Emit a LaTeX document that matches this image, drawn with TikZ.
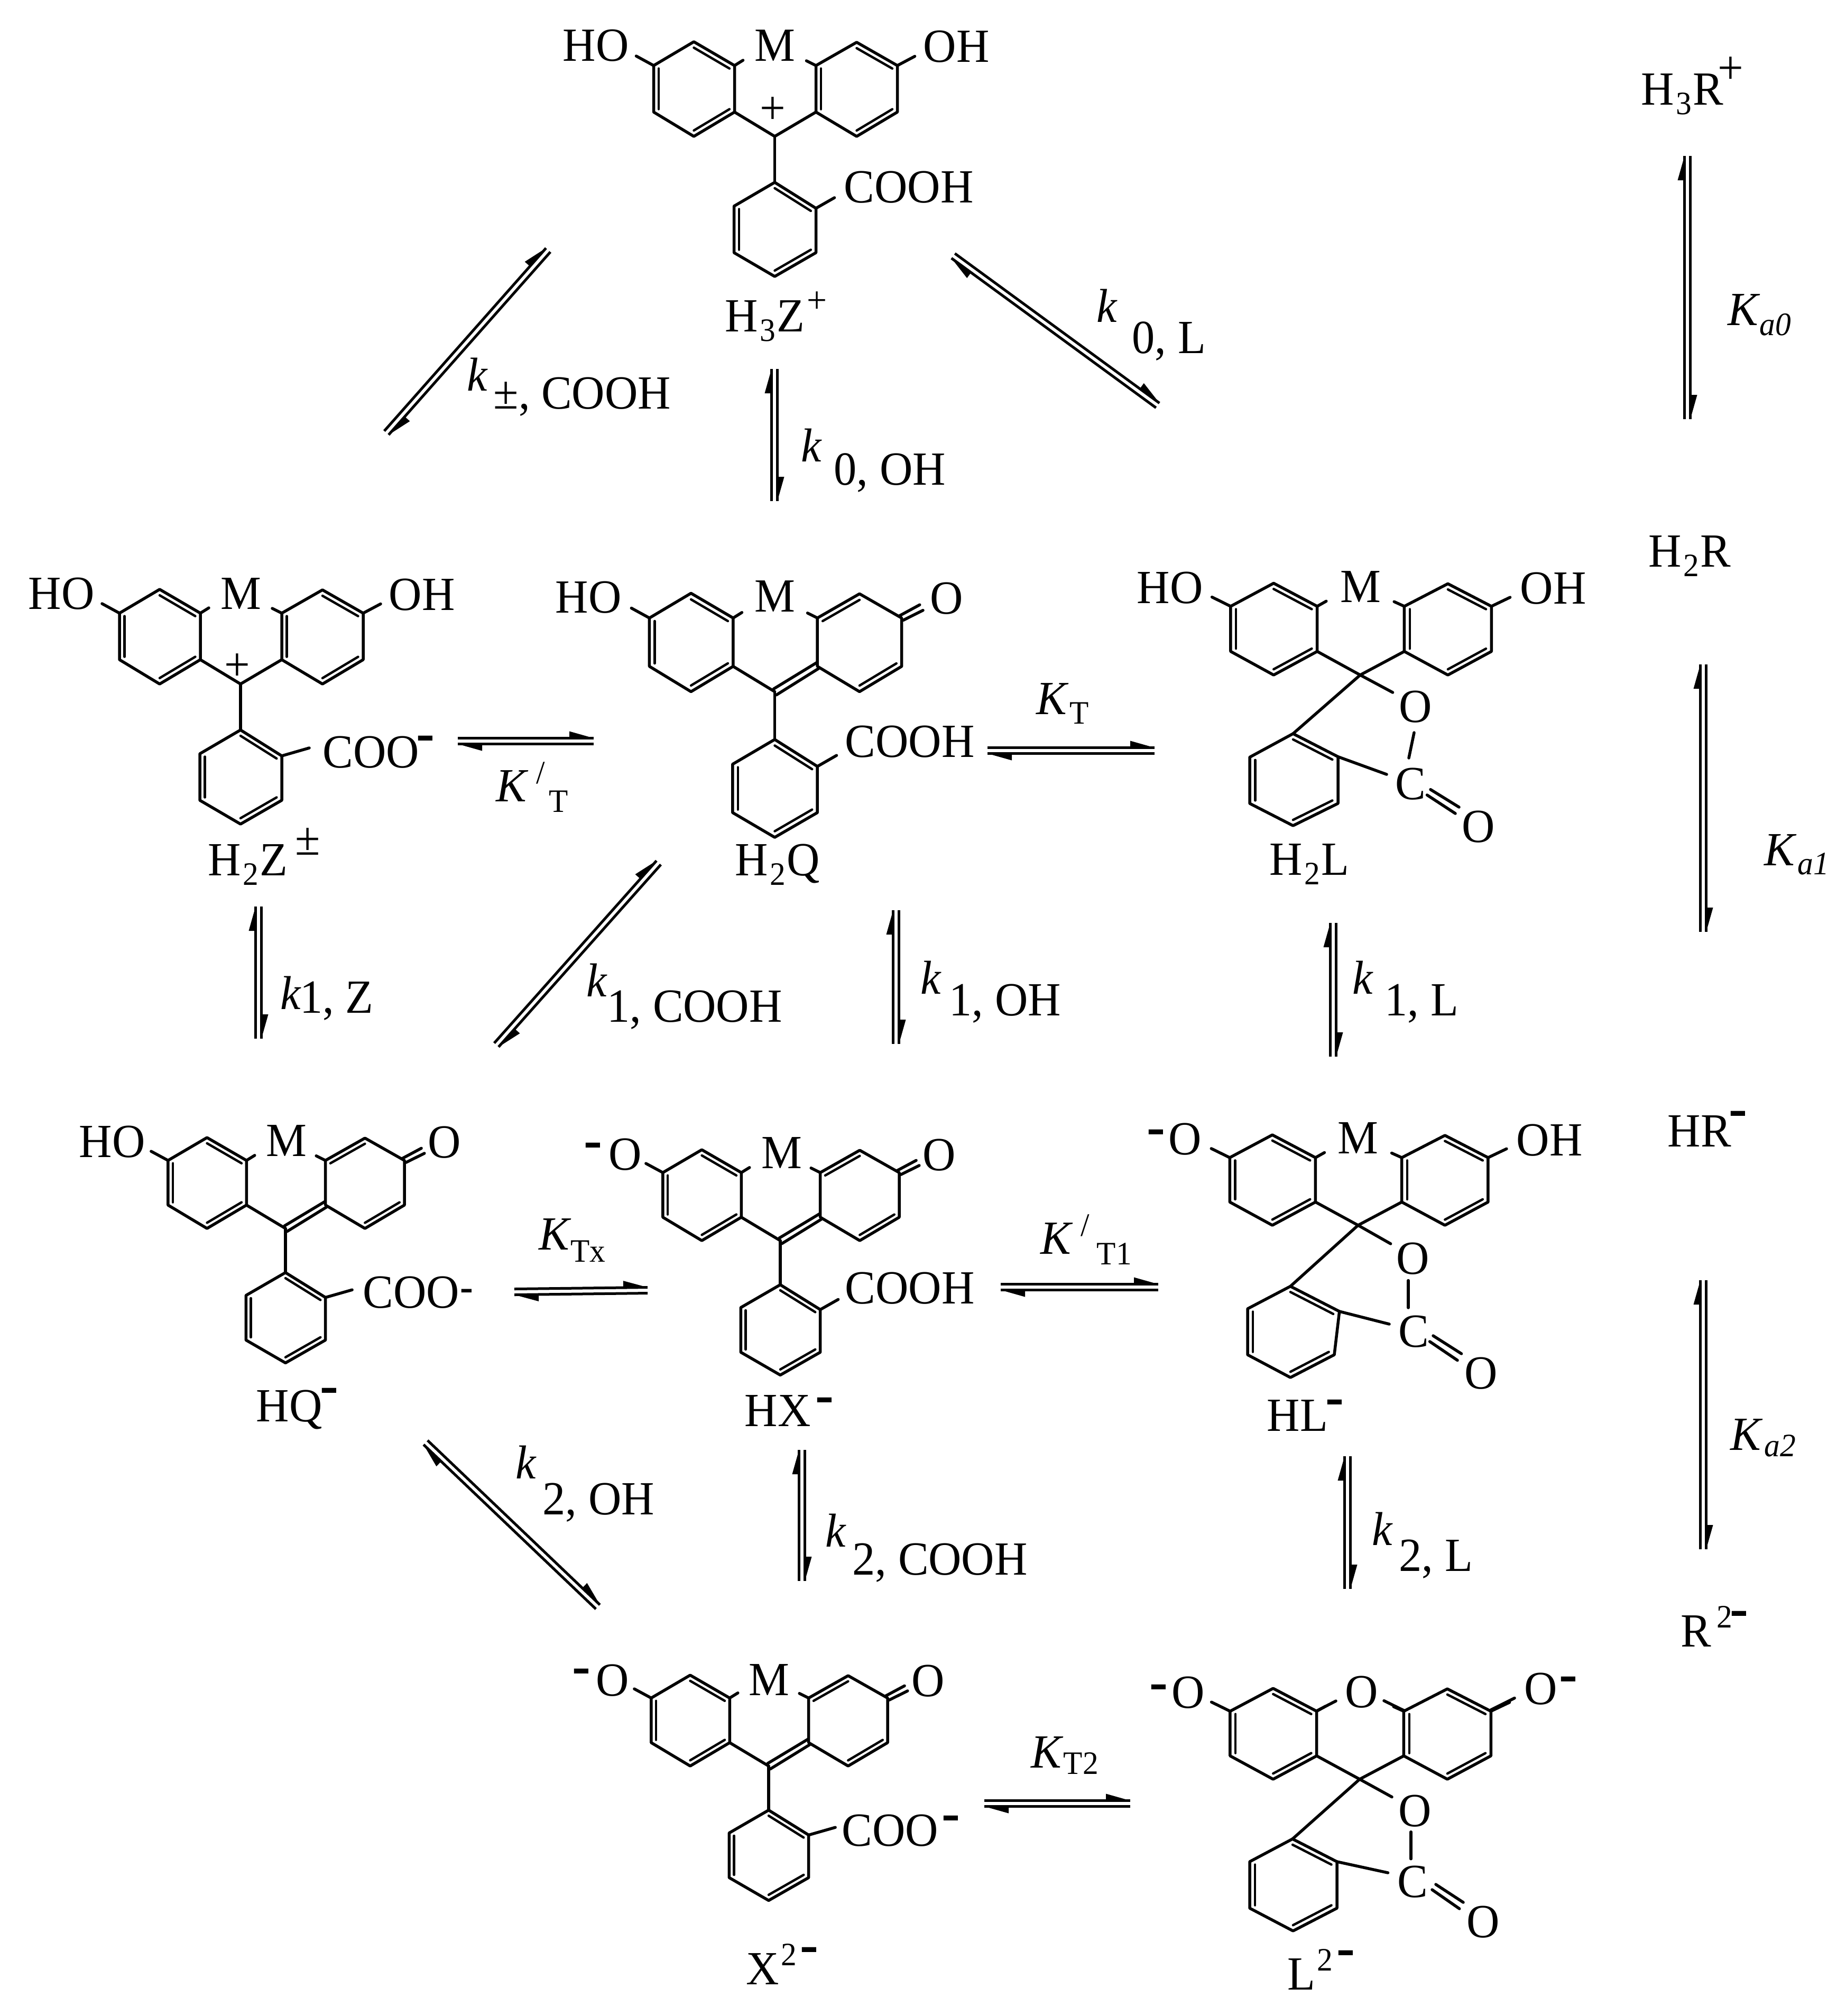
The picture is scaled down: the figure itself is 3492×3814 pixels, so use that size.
\documentclass[tikz,border=0pt]{standalone}
\usepackage{fontspec}
\setmainfont[FakeStretch=0.96]{Liberation Serif}
\usetikzlibrary{calc}
\newcommand{\mainsz}{\fontsize{25.6pt}{30pt}\selectfont}
\newcommand{\subsz}{\fontsize{17.6pt}{20pt}\selectfont}
\newcommand{\sbx}[1]{\kern.3mm\raisebox{-1.8mm}{\subsz #1}\kern.3mm}
\newcommand{\spx}[1]{\kern.3mm\raisebox{3.6mm}{\subsz #1}}
\tikzset{
  bond/.style={line width=.55mm,line cap=round,line join=round},
  innerb/.style={line width=.45mm,line cap=round},
  eqline/.style={line width=.5mm},
  lab/.style={inner sep=0pt,anchor=base west,font=\mainsz},
  sublab/.style={inner sep=0pt,anchor=base west,font=\subsz},
  chargemark/.style={inner sep=0pt,anchor=base,font=\fontsize{31pt}{33pt}\selectfont\bfseries},
  smallcharge/.style={inner sep=0pt,anchor=base,font=\fontsize{22pt}{24pt}\selectfont\bfseries},
  plusmark/.style={inner sep=0pt,font=\mainsz}
}
\newcommand{\lbl}[4]{\node[lab] (#1) at (#2,#3) {#4};}
\newcommand{\slb}[4]{\node[sublab] (#1) at (#2,#3) {#4};}
\newcommand{\chg}[3]{\node[chargemark] (#1) at ({#2},{#3+26}) {-};}
\newcommand{\chs}[3]{\node[smallcharge] (#1) at ({#2},{#3+18}) {-};}
\newcommand{\plusat}[3]{\node[plusmark] (#1) at (#2,#3) {+};}
% ---- molecule parts
\newcommand{\leftpart}{%
  \draw[bond] (-76,-46)--(-76,-134)--(-153,-179)--(-229,-134)--(-229,-46)--(-153,0)--cycle;
  \draw[innerb] (-153,-167.8)--(-85.6,-128.4);
  \draw[innerb] (-219.5,-128.4)--(-219.5,-51.5);
  \draw[innerb] (-153,-11.2)--(-85.6,-51.5);
  \draw[bond] (-76,-46)--(0,0);
  \draw[bond] (-229,-134)--(-262,-152);
  \draw[bond] (-76,-134)--(-60,-144);
  \draw[bond] (78,-134)--(60,-143);
}
\newcommand{\lowerpart}{%
  \draw[bond] (0,0)--(0,87);
  \draw[bond] (0,87)--(78,136)--(78,220)--(0,265)--(-77,220)--(-77,132)--cycle;
  \draw[innerb] (0,98)--(68.3,141);
  \draw[innerb] (68.3,214.5)--(0,253.9);
  \draw[innerb] (-67.4,214.5)--(-67.4,137.5);
}
\newcommand{\phenolpart}{%
  \draw[bond] (78,-46)--(78,-134)--(155,-178)--(232,-134)--(232,-46)--(155,0)--cycle;
  \draw[innerb] (87.6,-51.4)--(87.6,-128.4);
  \draw[innerb] (155,-166.9)--(222.4,-128.4);
  \draw[innerb] (222.4,-51.4)--(155,-11.1);
  \draw[bond] (0,0)--(78,-46);
  \draw[bond] (232,-134)--(265,-151.5);
}
\newcommand{\quinonepart}{%
  \draw[bond] (78,-46)--(78,-134)--(155,-178)--(232,-134)--(232,-46)--(155,0)--cycle;
  \draw[innerb] (87.6,-128.4)--(155,-166.9);
  \draw[innerb] (222.4,-51.4)--(155,-11.1);
  \draw[bond] (-2,-5)--(77,-53);
  \draw[bond] (3,6)--(80,-42);
  \draw[bond] (228,-138)--(265,-158);
  \draw[bond] (235,-130)--(271,-148);
}
\newcommand{\acidstub}{\draw[bond] (78,136)--(113,116);}
\newcommand{\carbstub}{\draw[bond] (78,136)--(130,121);}
\newcommand{\molcore}[5]{\begin{scope}[shift={(#1,#2)},xscale=#3,yscale=#4]#5\end{scope}}
\newcommand{\lacring}[8]{%
  \coordinate (lc) at ($#1!.5!#4$);
  \coordinate (lr) at #2;
  \draw[bond] #1--#2--#3--#4--#5--#6--cycle;
  \draw[innerb] ($#1!.125!(lc)$)--($#2!.125!(lc)$);
  \draw[innerb] ($#3!.125!(lc)$)--($#4!.125!(lc)$);
  \draw[innerb] ($#5!.125!(lc)$)--($#6!.125!(lc)$);
  \draw[bond] #7--#1;
  \draw[bond] #7--#8;
}
\newcommand{\lacbonds}[7]{%
  \draw[bond] #1--#2;
  \draw[bond] (lr)--#3;
  \draw[bond] #4--#5;
  \draw[bond] #6--#7;
}
% ---- equilibrium half arrows
\newcommand{\barbat}[2]{%
  \coordinate (bk) at ($#1!4.6mm!#2$);
  \fill #1 -- ($(bk)!1.3mm!90:#1$) -- (bk) -- cycle;
}
\newcommand{\eqarrow}[5]{%
  \coordinate (#1s) at (#2,#3);
  \coordinate (#1e) at (#4,#5);
  \coordinate (#1As) at ($(#1s)!0.55mm!90:(#1e)$);
  \coordinate (#1Ae) at ($(#1e)!0.55mm!-90:(#1s)$);
  \coordinate (#1Bs) at ($(#1e)!0.55mm!90:(#1s)$);
  \coordinate (#1Be) at ($(#1s)!0.55mm!-90:(#1e)$);
  \draw[eqline] (#1As)--(#1Ae);
  \draw[eqline] (#1Bs)--(#1Be);
  \barbat{(#1Ae)}{(#1As)}
  \barbat{(#1Be)}{(#1Bs)}
}
\begin{document}
\begin{tikzpicture}[x=0.1mm,y=-0.1mm]
\useasboundingbox (0,0) rectangle (3492,3814);
\fill[white] (0,0) rectangle (3492,3814);
% ===== molecules
\molcore{1465.5}{258}{1}{1}{\leftpart\lowerpart\phenolpart\acidstub}
\molcore{455}{1294}{1}{1}{\leftpart\lowerpart\phenolpart\carbstub}
\molcore{1465.5}{1308.5}{1.035}{1.04}{\leftpart\lowerpart\quinonepart\acidstub}
\molcore{540}{2324}{.97}{.96}{\leftpart\lowerpart\quinonepart\carbstub}
\molcore{1476}{2347}{.97}{.96}{\leftpart\lowerpart\quinonepart\acidstub}
\molcore{1454}{3341}{.97}{.96}{\leftpart\lowerpart\quinonepart\carbstub}
\molcore{2573}{1277}{1.07}{.97}{\leftpart\phenolpart}
\molcore{2569}{2318}{1.06}{.955}{\leftpart\phenolpart}
\molcore{2572}{3366}{1.07}{.96}{\leftpart\phenolpart}
% longer stubs around the oxygen atoms of L2-
\draw[bond] (2491,3236.6)--(2527,3218);
\draw[bond] (2657,3236.6)--(2618,3217.5);
\draw[bond] (2820,3235)--(2865,3212.5);
\lacring{(2446,1388)}{(2531,1431.6)}{(2531,1520)}{(2446,1562)}{(2364,1520)}{(2364,1432.5)}{(2573,1277)}{(2634.5,1310)}
\lacbonds{(2675,1386)}{(2665,1434)}{(2623,1465)}{(2706,1493.6)}{(2760,1527)}{(2699.5,1504)}{(2753,1539)}
\lacring{(2441,2433.5)}{(2533.7,2481)}{(2524,2563)}{(2441,2606)}{(2360,2563)}{(2360,2476)}{(2569,2318)}{(2630.6,2353)}
\lacbonds{(2664,2422.5)}{(2664,2474)}{(2628,2505)}{(2711,2527)}{(2764.5,2561)}{(2704.6,2538)}{(2757,2573.5)}
\lacring{(2445,3479)}{(2529,3522)}{(2529,3610)}{(2446,3653)}{(2364,3610)}{(2364,3522)}{(2572,3366)}{(2633,3399.6)}
\lacbonds{(2669,3465.7)}{(2669,3516.7)}{(2625.5,3543)}{(2716,3565)}{(2768,3599)}{(2709,3575)}{(2760.7,3611)}
% ===== equilibrium arrows
\eqarrow{ka0}{3192}{793}{3192}{295}
\eqarrow{ka1}{3222}{1763}{3222}{1257}
\eqarrow{ka2}{3222}{2931}{3222}{2422}
\eqarrow{kpm}{731}{819}{1037}{473}
\eqarrow{kzl}{2190}{767}{1803}{484}
\eqarrow{kzo}{1465}{948}{1465}{698}
\eqarrow{ktp}{866}{1402}{1123}{1402}
\eqarrow{kt}{1868}{1420}{2184}{1420}
\eqarrow{koz}{489}{1965}{489}{1715}
\eqarrow{koc}{939}{1977}{1246}{1632}
\eqarrow{koo}{1695}{1975}{1695}{1722}
\eqarrow{kol}{2522}{1999}{2522}{1746}
\eqarrow{ktx}{973}{2444}{1225}{2441}
\eqarrow{ktq}{1893}{2435}{2191}{2435}
\eqarrow{kwo}{1131}{3040}{805}{2729}
\eqarrow{kwc}{1517}{2991}{1517}{2743}
\eqarrow{kwl}{2549}{3006}{2549}{2755}
\eqarrow{ktw}{1862}{3412}{2138}{3412}
% ===== H3Z+
\lbl{a1}{1064}{115}{HO}\lbl{a2}{1427}{115}{M}\lbl{a3}{1746}{117}{OH}\lbl{a4}{1596}{383}{COOH}
\plusat{a5}{1462}{209}
\lbl{a6}{1371}{627}{H\sbx{3}Z\kern.4mm\raisebox{3.6mm}{\fontsize{20pt}{22pt}\selectfont +}}
% ===== H2Z
\lbl{b1}{53}{1152}{HO}\lbl{b2}{417}{1152}{M}\lbl{b3}{735}{1154}{OH}\lbl{b4}{610}{1452}{COO}
\chg{b5}{805}{1396}\plusat{b6}{449}{1262}
\lbl{b7}{393}{1656}{H\sbx{2}Z\kern1.4mm\raisebox{3.9mm}{±}}
% ===== H2Q
\lbl{c1}{1050}{1159}{HO}\lbl{c2}{1427}{1157}{M}\lbl{c3}{1759}{1161}{O}\lbl{c4}{1598}{1432}{COOH}
\lbl{c5}{1390}{1656}{H\sbx{2}Q}
% ===== H2L
\lbl{d1}{2150}{1141}{HO}\lbl{d2}{2535}{1139}{M}\lbl{d3}{2875}{1142}{OH}
\lbl{d4}{2646}{1366}{O}\lbl{d5}{2639}{1512}{C}\lbl{d6}{2765}{1593}{O}
\lbl{d7}{2401}{1655}{H\sbx{2}L}
% ===== HQ-
\lbl{e1}{149}{2189}{HO}\lbl{e2}{503}{2187}{M}\lbl{e3}{809}{2190}{O}\lbl{e4}{686}{2474}{COO}
\chs{e5}{883}{2442}
\lbl{e6}{484}{2689}{HQ}\chg{e7}{623}{2630}
% ===== HX-
\chg{f1}{1122}{2166}\lbl{f2}{1151}{2213}{O}\lbl{f3}{1440}{2210}{M}\lbl{f4}{1745}{2214}{O}\lbl{f5}{1598}{2466}{COOH}
\lbl{f6}{1408}{2698}{HX}\chg{f7}{1560}{2648}
% ===== HL-
\chg{g1}{2187}{2141}\lbl{g2}{2210}{2184}{O}\lbl{g3}{2530}{2182}{M}\lbl{g4}{2868}{2186}{OH}
\lbl{g5}{2641}{2410}{O}\lbl{g6}{2645}{2548}{C}\lbl{g7}{2770}{2627}{O}
\lbl{g8}{2396}{2707}{HL}\chg{g9}{2525}{2652}
% ===== X2-
\chg{h1}{1100}{3161}\lbl{h2}{1127}{3208}{O}\lbl{h3}{1416}{3207}{M}\lbl{h4}{1724}{3209}{O}\lbl{h5}{1592}{3492}{COO}
\chg{h6}{1799}{3439}
\lbl{h7}{1411}{3754}{X\spx{2}}\chg{h8}{1531}{3688}
% ===== L2-
\chg{i1}{2192}{3191}\lbl{i2}{2216}{3231}{O}\lbl{i3}{2544}{3230}{O}\lbl{i4}{2883}{3224}{O}\chg{i5}{2967}{3176}
\lbl{i6}{2645}{3455}{O}\lbl{i7}{2643}{3589}{C}\lbl{i8}{2774}{3665}{O}
\lbl{i9}{2435}{3764}{L\spx{2}}\chg{i10}{2546}{3694}
% ===== right column
\lbl{j1}{3104}{198}{H\sbx{3}R\kern-1.1mm\raisebox{4mm}{+}}
\lbl{j3}{3118}{1072}{H\sbx{2}R}
\lbl{j4}{3154}{2169}{HR}\chg{j5}{3288}{2106}
\lbl{j6}{3179}{3115}{R\kern1mm\raisebox{3.6mm}{\subsz 2}}\chg{j7}{3290}{3052}
\lbl{j8}{3268}{615}{\itshape K}\slb{j9}{3328}{634}{\itshape a0}
\lbl{j10}{3337}{1637}{\itshape K}\slb{j11}{3400}{1654}{\itshape a1}
\lbl{j12}{3273}{2743}{\itshape K}\slb{j13}{3337}{2755}{\itshape a2}
% ===== rate labels
\lbl{k1}{883}{739}{\itshape k}\lbl{k2}{933}{773}{±, COOH}
\lbl{k3}{2074}{609}{\itshape k}\lbl{k4}{2141}{668}{0, L}
\lbl{k5}{1515}{873}{\itshape k}\lbl{k6}{1577}{917}{0, OH}
\lbl{k7}{938}{1516}{\itshape K}\node[sublab] (k8) at (1014,1482) {/};\slb{k9}{1038}{1536}{T}
\lbl{k10}{1960}{1351}{\itshape K}\slb{k11}{2023}{1369}{T}
\lbl{k12}{530}{1909}{\itshape k}\lbl{k13}{567}{1916}{1, Z}
\lbl{k14}{1109}{1885}{\itshape k}\lbl{k15}{1148}{1933}{1, COOH}
\lbl{k16}{1741}{1880}{\itshape k}\lbl{k17}{1795}{1921}{1, OH}
\lbl{k18}{2558}{1880}{\itshape k}\lbl{k19}{2619}{1921}{1, L}
\lbl{k20}{1019}{2364}{\itshape K}\slb{k21}{1079}{2387}{Tx}
\lbl{k22}{1968}{2372}{\itshape K}\node[sublab] (k23) at (2044,2338) {/};\slb{k24}{2074}{2392}{T1}
\lbl{k25}{975}{2797}{\itshape k}\lbl{k26}{1026}{2865}{2, OH}
\lbl{k27}{1561}{2926}{\itshape k}\lbl{k28}{1612}{2979}{2, COOH}
\lbl{k29}{2595}{2923}{\itshape k}\lbl{k30}{2646}{2972}{2, L}
\lbl{k31}{1950}{3344}{\itshape K}\slb{k32}{2011}{3356}{T2}
\end{tikzpicture}
\end{document}
